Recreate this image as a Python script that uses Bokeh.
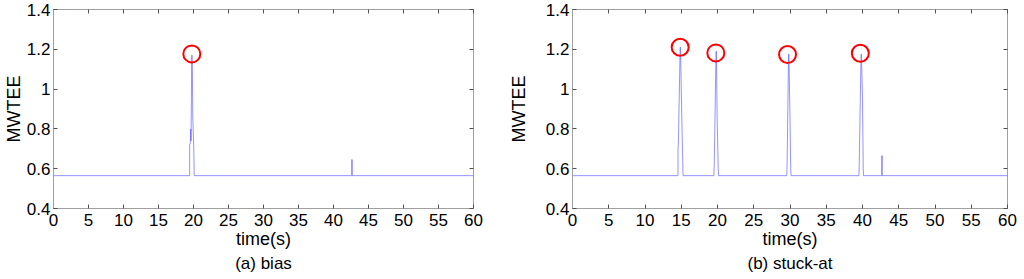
from bokeh.plotting import figure
from bokeh.layouts import row
from bokeh.models import (LinearAxis, FixedTicker, CustomJSTickFormatter, Title)
from bokeh.embed import file_html
from bokeh.resources import INLINE

# ---- data ----
x_ticks = [0, 5, 10, 15, 20, 25, 30, 35, 40, 45, 50, 55, 60]
y_ticks = [0.4, 0.6, 0.8, 1.0, 1.2, 1.4]

bias_t = [0, 19.45, 19.45, 19.55, 19.6, 19.65, 19.75, 19.8, 19.85, 19.9, 20.0, 20.05, 20.1,
          42.6, 42.6, 42.68, 42.68, 60]
bias_y = [0.565, 0.565, 0.72, 0.73, 0.80, 0.74, 1.17, 1.17, 1.05, 0.85, 0.75, 0.68, 0.565,
          0.565, 0.645, 0.645, 0.565, 0.565]
bias_mark_t = [19.76]
bias_mark_y = [1.177]

stuck_t = [0, 14.55, 14.55, 14.6, 14.85, 14.9, 15.05, 15.25, 15.3,
           19.5, 19.55, 19.8, 19.85, 19.95, 20.1, 20.15,
           29.55, 29.6, 29.8, 29.85, 30.0, 30.1, 30.15,
           39.5, 39.55, 39.8, 39.85, 40.0, 40.1, 40.15,
           42.65, 42.65, 42.72, 42.72, 60]
stuck_y = [0.565, 0.565, 0.70, 0.72, 1.21, 1.21, 0.90, 0.565, 0.565,
           0.565, 0.62, 1.19, 1.19, 0.85, 0.60, 0.565,
           0.565, 0.62, 1.175, 1.175, 0.85, 0.60, 0.565,
           0.565, 0.62, 1.175, 1.175, 0.95, 0.60, 0.565,
           0.565, 0.665, 0.665, 0.565, 0.565]
stuck_mark_t = [14.85, 19.77, 29.66, 39.7]
stuck_mark_y = [1.21, 1.182, 1.174, 1.18]

captions = ["(a) bias", "(b) stuck-at"]

FONT = "Liberation Sans"
LINE_COLOR = "#5a5aff"


def make_fig(t, y, mt, my, caption, fw, bl, br, ylab_standoff):
    p = figure(frame_width=fw, frame_height=199, x_range=(0, 60), y_range=(0.4, 1.4),
               output_backend="svg", toolbar_location=None,
               min_border_left=bl, min_border_right=br, min_border_top=9,
               min_border_bottom=0, x_axis_label="time(s)", y_axis_label="MWTEE")
    p.xgrid.visible = False
    p.ygrid.visible = False
    p.outline_line_color = "#a0a0a0"
    p.background_fill_color = "white"
    p.border_fill_color = "white"

    p.line(t, y, line_color=LINE_COLOR, line_width=1, line_alpha=0.65)
    p.scatter(mt, my, marker="circle", size=17, fill_color=None,
              line_color="#ff0000", line_width=2)

    yfmt = CustomJSTickFormatter(code="return tick.toFixed(1).replace(/\\.0$/, '');")
    empty = CustomJSTickFormatter(code="return '';")

    for ax in (p.xaxis[0], p.yaxis[0]):
        ax.axis_line_color = "#a0a0a0"
        ax.major_tick_in = 4
        ax.major_tick_out = 0
        ax.minor_tick_in = 0
        ax.minor_tick_out = 0
        ax.major_tick_line_color = "#505050"
        ax.major_label_text_font = FONT
        ax.major_label_text_font_size = "17px"
        ax.major_label_text_color = "black"
        ax.axis_label_text_font = FONT
        ax.axis_label_text_font_size = "18px"
        ax.axis_label_text_font_style = "normal"
        ax.axis_label_text_color = "black"
    p.xaxis[0].ticker = FixedTicker(ticks=x_ticks)
    p.yaxis[0].ticker = FixedTicker(ticks=y_ticks)
    p.yaxis[0].formatter = yfmt
    p.xaxis[0].major_label_standoff = 5
    p.xaxis[0].axis_label_standoff = 0
    p.yaxis[0].major_label_standoff = 3
    p.yaxis[0].axis_label_standoff = ylab_standoff

    top = LinearAxis(ticker=FixedTicker(ticks=x_ticks), formatter=empty)
    right = LinearAxis(ticker=FixedTicker(ticks=y_ticks), formatter=empty)
    for ax in (top, right):
        ax.axis_line_color = None
        ax.major_tick_in = 4
        ax.major_tick_out = 0
        ax.minor_tick_in = 0
        ax.minor_tick_out = 0
        ax.major_tick_line_color = "#505050"
        ax.major_label_standoff = 0
        ax.major_label_text_font_size = "1px"
    p.add_layout(top, "above")
    p.add_layout(right, "right")

    cap = Title(text=caption, align="center", text_font=FONT, text_font_size="17px",
                text_font_style="normal", text_color="black", standoff=0, offset=0)
    p.add_layout(cap, "below")
    return p


p1 = make_fig(bias_t, bias_y, bias_mark_t, bias_mark_y, captions[0], 420, 48, 32, 0)
p2 = make_fig(stuck_t, stuck_y, stuck_mark_t, stuck_mark_y, captions[1], 435, 63, 10, 14)

layout = row(p1, p2)
open("out.html", "w").write(file_html(layout, INLINE))
